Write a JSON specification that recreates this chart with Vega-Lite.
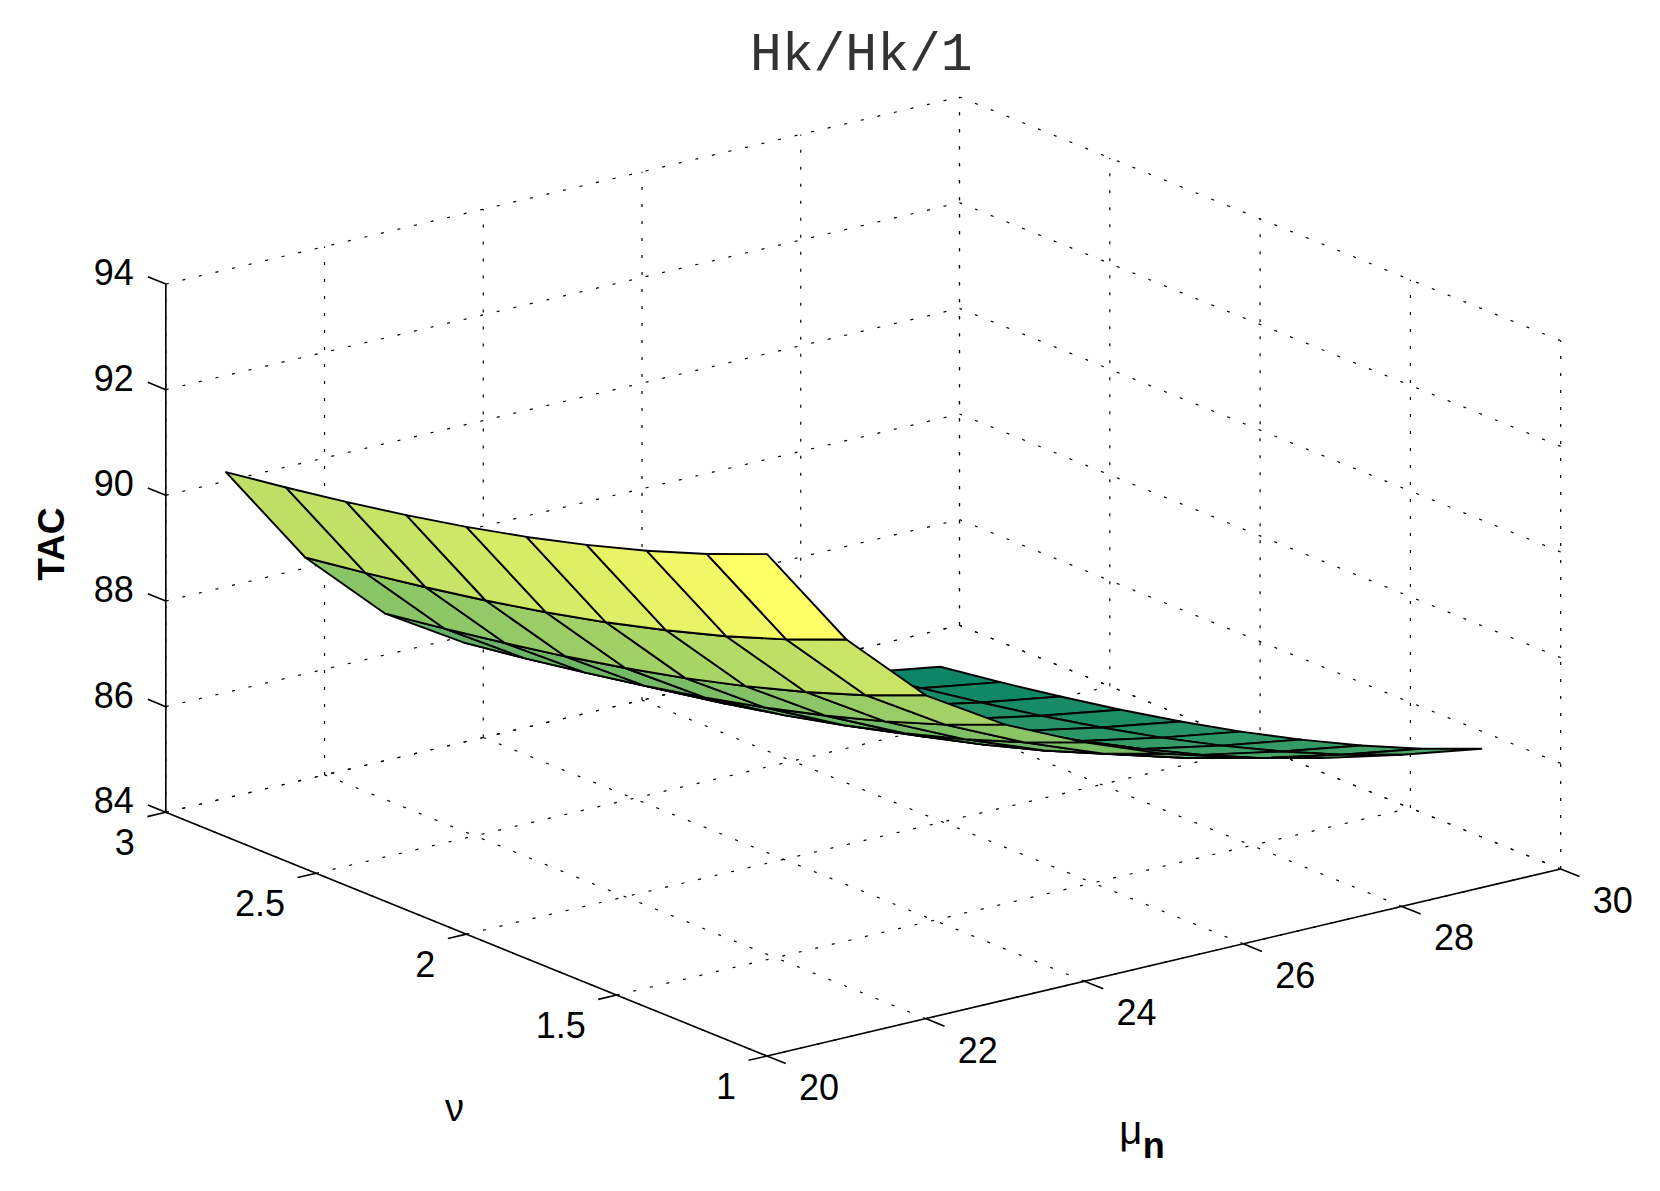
{
  "$schema": "https://vega.github.io/schema/vega-lite/v6.json",
  "width": 1660,
  "height": 1191,
  "autosize": {"type": "none"},
  "padding": 0,
  "background": "white",
  "config": {"view": {"stroke": null}},
  "datasets": {
    "surface": [
      {"mu": 29, "nu": 2.8, "TAC": 84.03}, {"mu": 28, "nu": 2.8, "TAC": 84.27}, {"mu": 27, "nu": 2.8, "TAC": 84.56}, {"mu": 26, "nu": 2.8, "TAC": 84.92}, {"mu": 25, "nu": 2.8, "TAC": 85.35}, {"mu": 24, "nu": 2.8, "TAC": 85.92}, {"mu": 23, "nu": 2.8, "TAC": 86.61}, {"mu": 22, "nu": 2.8, "TAC": 87.52}, {"mu": 21, "nu": 2.8, "TAC": 88.93}, {"mu": 20, "nu": 2.8, "TAC": 90.90},
      {"mu": 29, "nu": 2.6, "TAC": 84.20}, {"mu": 28, "nu": 2.6, "TAC": 84.44}, {"mu": 27, "nu": 2.6, "TAC": 84.73}, {"mu": 26, "nu": 2.6, "TAC": 85.09}, {"mu": 25, "nu": 2.6, "TAC": 85.52}, {"mu": 24, "nu": 2.6, "TAC": 86.09}, {"mu": 23, "nu": 2.6, "TAC": 86.78}, {"mu": 22, "nu": 2.6, "TAC": 87.69}, {"mu": 21, "nu": 2.6, "TAC": 89.10}, {"mu": 20, "nu": 2.6, "TAC": 91.07},
      {"mu": 29, "nu": 2.4, "TAC": 84.39}, {"mu": 28, "nu": 2.4, "TAC": 84.63}, {"mu": 27, "nu": 2.4, "TAC": 84.92}, {"mu": 26, "nu": 2.4, "TAC": 85.28}, {"mu": 25, "nu": 2.4, "TAC": 85.71}, {"mu": 24, "nu": 2.4, "TAC": 86.28}, {"mu": 23, "nu": 2.4, "TAC": 86.97}, {"mu": 22, "nu": 2.4, "TAC": 87.88}, {"mu": 21, "nu": 2.4, "TAC": 89.29}, {"mu": 20, "nu": 2.4, "TAC": 91.26},
      {"mu": 29, "nu": 2.2, "TAC": 84.60}, {"mu": 28, "nu": 2.2, "TAC": 84.84}, {"mu": 27, "nu": 2.2, "TAC": 85.13}, {"mu": 26, "nu": 2.2, "TAC": 85.49}, {"mu": 25, "nu": 2.2, "TAC": 85.92}, {"mu": 24, "nu": 2.2, "TAC": 86.49}, {"mu": 23, "nu": 2.2, "TAC": 87.18}, {"mu": 22, "nu": 2.2, "TAC": 88.09}, {"mu": 21, "nu": 2.2, "TAC": 89.50}, {"mu": 20, "nu": 2.2, "TAC": 91.47},
      {"mu": 29, "nu": 2.0, "TAC": 84.84}, {"mu": 28, "nu": 2.0, "TAC": 85.08}, {"mu": 27, "nu": 2.0, "TAC": 85.37}, {"mu": 26, "nu": 2.0, "TAC": 85.73}, {"mu": 25, "nu": 2.0, "TAC": 86.16}, {"mu": 24, "nu": 2.0, "TAC": 86.73}, {"mu": 23, "nu": 2.0, "TAC": 87.42}, {"mu": 22, "nu": 2.0, "TAC": 88.33}, {"mu": 21, "nu": 2.0, "TAC": 89.74}, {"mu": 20, "nu": 2.0, "TAC": 91.71},
      {"mu": 29, "nu": 1.8, "TAC": 85.11}, {"mu": 28, "nu": 1.8, "TAC": 85.35}, {"mu": 27, "nu": 1.8, "TAC": 85.64}, {"mu": 26, "nu": 1.8, "TAC": 86.00}, {"mu": 25, "nu": 1.8, "TAC": 86.43}, {"mu": 24, "nu": 1.8, "TAC": 87.00}, {"mu": 23, "nu": 1.8, "TAC": 87.69}, {"mu": 22, "nu": 1.8, "TAC": 88.60}, {"mu": 21, "nu": 1.8, "TAC": 90.01}, {"mu": 20, "nu": 1.8, "TAC": 91.98},
      {"mu": 29, "nu": 1.6, "TAC": 85.42}, {"mu": 28, "nu": 1.6, "TAC": 85.66}, {"mu": 27, "nu": 1.6, "TAC": 85.95}, {"mu": 26, "nu": 1.6, "TAC": 86.31}, {"mu": 25, "nu": 1.6, "TAC": 86.74}, {"mu": 24, "nu": 1.6, "TAC": 87.31}, {"mu": 23, "nu": 1.6, "TAC": 88.00}, {"mu": 22, "nu": 1.6, "TAC": 88.91}, {"mu": 21, "nu": 1.6, "TAC": 90.32}, {"mu": 20, "nu": 1.6, "TAC": 92.29},
      {"mu": 29, "nu": 1.4, "TAC": 85.77}, {"mu": 28, "nu": 1.4, "TAC": 86.01}, {"mu": 27, "nu": 1.4, "TAC": 86.30}, {"mu": 26, "nu": 1.4, "TAC": 86.66}, {"mu": 25, "nu": 1.4, "TAC": 87.09}, {"mu": 24, "nu": 1.4, "TAC": 87.66}, {"mu": 23, "nu": 1.4, "TAC": 88.35}, {"mu": 22, "nu": 1.4, "TAC": 89.26}, {"mu": 21, "nu": 1.4, "TAC": 90.67}, {"mu": 20, "nu": 1.4, "TAC": 92.64},
      {"mu": 29, "nu": 1.2, "TAC": 86.17}, {"mu": 28, "nu": 1.2, "TAC": 86.41}, {"mu": 27, "nu": 1.2, "TAC": 86.70}, {"mu": 26, "nu": 1.2, "TAC": 87.06}, {"mu": 25, "nu": 1.2, "TAC": 87.49}, {"mu": 24, "nu": 1.2, "TAC": 88.06}, {"mu": 23, "nu": 1.2, "TAC": 88.75}, {"mu": 22, "nu": 1.2, "TAC": 89.66}, {"mu": 21, "nu": 1.2, "TAC": 91.07}, {"mu": 20, "nu": 1.2, "TAC": 93.04},
      {"mu": 29, "nu": 1.0, "TAC": 86.63}, {"mu": 28, "nu": 1.0, "TAC": 86.87}, {"mu": 27, "nu": 1.0, "TAC": 87.16}, {"mu": 26, "nu": 1.0, "TAC": 87.52}, {"mu": 25, "nu": 1.0, "TAC": 87.95}, {"mu": 24, "nu": 1.0, "TAC": 88.52}, {"mu": 23, "nu": 1.0, "TAC": 89.21}, {"mu": 22, "nu": 1.0, "TAC": 90.12}, {"mu": 21, "nu": 1.0, "TAC": 91.53}, {"mu": 20, "nu": 1.0, "TAC": 93.50}
    ],
    "mut": [{"v": 20}, {"v": 22}, {"v": 24}, {"v": 26}, {"v": 28}, {"v": 30}],
    "nut": [{"v": 1}, {"v": 1.5}, {"v": 2}, {"v": 2.5}, {"v": 3}],
    "zt": [{"v": 84}, {"v": 86}, {"v": 88}, {"v": 90}, {"v": 92}, {"v": 94}]
  },
  "encoding": {
    "x": {"field": "x1", "type": "quantitative", "scale": {"domain": [0, 1660], "nice": false, "zero": false}, "axis": null},
    "y": {"field": "y1", "type": "quantitative", "scale": {"domain": [0, 1191], "nice": false, "zero": false, "reverse": true}, "axis": null}
  },
  "layer": [
    {
      "data": {"name": "mut"},
      "transform": [
        {"calculate": "767+79.37*(datum.v-20)", "as": "x1"},
        {"calculate": "1056-18.7*(datum.v-20)", "as": "y1"},
        {"calculate": "datum.x1-601.2", "as": "x2"},
        {"calculate": "datum.y1-243.7", "as": "y2"}
      ],
      "mark": {"type": "rule", "strokeDash": [3, 14], "strokeWidth": 1.2, "color": "black"},
      "encoding": {"x2": {"field": "x2"}, "y2": {"field": "y2"}}
    },
    {
      "data": {"name": "mut"},
      "transform": [
        {"calculate": "767+79.37*(datum.v-20)-601.2", "as": "x1"},
        {"calculate": "1056-18.7*(datum.v-20)-243.7", "as": "y1"},
        {"calculate": "datum.x1", "as": "x2"},
        {"calculate": "datum.y1-528.3", "as": "y2"}
      ],
      "mark": {"type": "rule", "strokeDash": [3, 14], "strokeWidth": 1.2, "color": "black"},
      "encoding": {"x2": {"field": "x2"}, "y2": {"field": "y2"}}
    },
    {
      "data": {"name": "nut"},
      "transform": [
        {"calculate": "767-300.6*(datum.v-1)", "as": "x1"},
        {"calculate": "1056-121.85*(datum.v-1)", "as": "y1"},
        {"calculate": "datum.x1+793.7", "as": "x2"},
        {"calculate": "datum.y1-187", "as": "y2"}
      ],
      "mark": {"type": "rule", "strokeDash": [3, 14], "strokeWidth": 1.2, "color": "black"},
      "encoding": {"x2": {"field": "x2"}, "y2": {"field": "y2"}}
    },
    {
      "data": {"name": "nut"},
      "transform": [
        {"calculate": "767+793.7-300.6*(datum.v-1)", "as": "x1"},
        {"calculate": "1056-187-121.85*(datum.v-1)", "as": "y1"},
        {"calculate": "datum.x1", "as": "x2"},
        {"calculate": "datum.y1-528.3", "as": "y2"}
      ],
      "mark": {"type": "rule", "strokeDash": [3, 14], "strokeWidth": 1.2, "color": "black"},
      "encoding": {"x2": {"field": "x2"}, "y2": {"field": "y2"}}
    },
    {
      "data": {"name": "zt"},
      "transform": [
        {"calculate": "767-601.2", "as": "x1"},
        {"calculate": "1056-243.7-52.83*(datum.v-84)", "as": "y1"},
        {"calculate": "datum.x1+793.7", "as": "x2"},
        {"calculate": "datum.y1-187", "as": "y2"}
      ],
      "mark": {"type": "rule", "strokeDash": [3, 14], "strokeWidth": 1.2, "color": "black"},
      "encoding": {"x2": {"field": "x2"}, "y2": {"field": "y2"}}
    },
    {
      "data": {"name": "zt"},
      "transform": [
        {"calculate": "767+793.7", "as": "x1"},
        {"calculate": "1056-187-52.83*(datum.v-84)", "as": "y1"},
        {"calculate": "datum.x1-601.2", "as": "x2"},
        {"calculate": "datum.y1-243.7", "as": "y2"}
      ],
      "mark": {"type": "rule", "strokeDash": [3, 14], "strokeWidth": 1.2, "color": "black"},
      "encoding": {"x2": {"field": "x2"}, "y2": {"field": "y2"}}
    },
    {
      "data": {"name": "zt"},
      "transform": [
        {"aggregate": [{"op": "min", "field": "v", "as": "lo"}, {"op": "max", "field": "v", "as": "hi"}]},
        {"calculate": "767-601.2", "as": "x1"},
        {"calculate": "1056-243.7-52.83*(datum.lo-84)", "as": "y1"},
        {"calculate": "datum.x1", "as": "x2"},
        {"calculate": "1056-243.7-52.83*(datum.hi-84)", "as": "y2"}
      ],
      "mark": {"type": "rule", "strokeWidth": 1.6, "color": "black"},
      "encoding": {"x2": {"field": "x2"}, "y2": {"field": "y2"}}
    },
    {
      "data": {"name": "nut"},
      "transform": [
        {"aggregate": [{"op": "min", "field": "v", "as": "lo"}, {"op": "max", "field": "v", "as": "hi"}]},
        {"calculate": "767-300.6*(datum.lo-1)", "as": "x1"},
        {"calculate": "1056-121.85*(datum.lo-1)", "as": "y1"},
        {"calculate": "767-300.6*(datum.hi-1)", "as": "x2"},
        {"calculate": "1056-121.85*(datum.hi-1)", "as": "y2"}
      ],
      "mark": {"type": "rule", "strokeWidth": 1.6, "color": "black"},
      "encoding": {"x2": {"field": "x2"}, "y2": {"field": "y2"}}
    },
    {
      "data": {"name": "mut"},
      "transform": [
        {"aggregate": [{"op": "min", "field": "v", "as": "lo"}, {"op": "max", "field": "v", "as": "hi"}]},
        {"calculate": "767+79.37*(datum.lo-20)", "as": "x1"},
        {"calculate": "1056-18.7*(datum.lo-20)", "as": "y1"},
        {"calculate": "767+79.37*(datum.hi-20)", "as": "x2"},
        {"calculate": "1056-18.7*(datum.hi-20)", "as": "y2"}
      ],
      "mark": {"type": "rule", "strokeWidth": 1.6, "color": "black"},
      "encoding": {"x2": {"field": "x2"}, "y2": {"field": "y2"}}
    },
    {
      "data": {"name": "mut"},
      "transform": [
        {"calculate": "767+79.37*(datum.v-20)", "as": "x1"},
        {"calculate": "1056-18.7*(datum.v-20)", "as": "y1"},
        {"calculate": "datum.x1+18.8", "as": "x2"},
        {"calculate": "datum.y1+7.6", "as": "y2"}
      ],
      "mark": {"type": "rule", "strokeWidth": 1.6, "color": "black"},
      "encoding": {"x2": {"field": "x2"}, "y2": {"field": "y2"}}
    },
    {
      "data": {"name": "nut"},
      "transform": [
        {"calculate": "767-300.6*(datum.v-1)", "as": "x1"},
        {"calculate": "1056-121.85*(datum.v-1)", "as": "y1"},
        {"calculate": "datum.x1-18.5", "as": "x2"},
        {"calculate": "datum.y1+4.3", "as": "y2"}
      ],
      "mark": {"type": "rule", "strokeWidth": 1.6, "color": "black"},
      "encoding": {"x2": {"field": "x2"}, "y2": {"field": "y2"}}
    },
    {
      "data": {"name": "zt"},
      "transform": [
        {"calculate": "767-601.2", "as": "x1"},
        {"calculate": "1056-243.7-52.83*(datum.v-84)", "as": "y1"},
        {"calculate": "datum.x1-18", "as": "x2"},
        {"calculate": "datum.y1-7.3", "as": "y2"}
      ],
      "mark": {"type": "rule", "strokeWidth": 1.6, "color": "black"},
      "encoding": {"x2": {"field": "x2"}, "y2": {"field": "y2"}}
    },
    {
      "data": {"name": "mut"},
      "transform": [
        {"calculate": "767+79.37*(datum.v-20)", "as": "x1"},
        {"calculate": "1056-18.7*(datum.v-20)", "as": "y1"}
      ],
      "mark": {"type": "text", "font": "Liberation Sans", "fontSize": 36, "align": "center", "baseline": "middle", "dx": 52, "dy": 33, "color": "black"},
      "encoding": {"text": {"field": "v", "type": "nominal"}}
    },
    {
      "data": {"name": "nut"},
      "transform": [
        {"calculate": "767-300.6*(datum.v-1)", "as": "x1"},
        {"calculate": "1056-121.85*(datum.v-1)", "as": "y1"}
      ],
      "mark": {"type": "text", "font": "Liberation Sans", "fontSize": 36, "align": "right", "baseline": "middle", "dx": -31, "dy": 32, "color": "black"},
      "encoding": {"text": {"field": "v", "type": "nominal"}}
    },
    {
      "data": {"name": "zt"},
      "transform": [
        {"calculate": "767-601.2", "as": "x1"},
        {"calculate": "1056-243.7-52.83*(datum.v-84)", "as": "y1"}
      ],
      "mark": {"type": "text", "font": "Liberation Sans", "fontSize": 36, "align": "right", "baseline": "middle", "dx": -32, "dy": -10, "color": "black"},
      "encoding": {"text": {"field": "v", "type": "nominal"}}
    },
    {
      "data": {"values": [{"t": "Hk/Hk/1", "mu": 25, "nu": 2, "z": 94}]},
      "transform": [
        {"calculate": "767+79.37*(datum.mu-20)-300.6*(datum.nu-1)", "as": "x1"},
        {"calculate": "1056-18.7*(datum.mu-20)-121.85*(datum.nu-1)-52.83*(datum.z-84)", "as": "y1"}
      ],
      "mark": {"type": "text", "font": "Liberation Mono", "fontSize": 53, "align": "center", "baseline": "alphabetic", "dx": -2, "dy": -242, "color": "#333333"},
      "encoding": {"text": {"field": "t", "type": "nominal"}}
    },
    {
      "data": {"values": [{"t": "TAC", "mu": 20, "nu": 3, "z": 89}]},
      "transform": [
        {"calculate": "767+79.37*(datum.mu-20)-300.6*(datum.nu-1)", "as": "x1"},
        {"calculate": "1056-18.7*(datum.mu-20)-121.85*(datum.nu-1)-52.83*(datum.z-84)", "as": "y1"}
      ],
      "mark": {"type": "text", "font": "Liberation Sans", "fontSize": 37, "fontWeight": "bold", "angle": 270, "align": "center", "baseline": "middle", "dx": 4, "dy": -113, "color": "black"},
      "encoding": {"text": {"field": "t", "type": "nominal"}}
    },
    {
      "data": {"values": [{"t": "ν", "mu": 20, "nu": 2, "z": 84}]},
      "transform": [
        {"calculate": "767+79.37*(datum.mu-20)-300.6*(datum.nu-1)", "as": "x1"},
        {"calculate": "1056-18.7*(datum.mu-20)-121.85*(datum.nu-1)-52.83*(datum.z-84)", "as": "y1"}
      ],
      "mark": {"type": "text", "font": "Liberation Sans", "fontSize": 38, "align": "center", "baseline": "alphabetic", "dx": -12, "dy": 187, "color": "black"},
      "encoding": {"text": {"field": "t", "type": "nominal"}}
    },
    {
      "data": {"values": [{"t": "μ", "mu": 25, "nu": 1, "z": 84}]},
      "transform": [
        {"calculate": "767+79.37*(datum.mu-20)-300.6*(datum.nu-1)", "as": "x1"},
        {"calculate": "1056-18.7*(datum.mu-20)-121.85*(datum.nu-1)-52.83*(datum.z-84)", "as": "y1"}
      ],
      "mark": {"type": "text", "font": "Liberation Sans", "fontSize": 40, "align": "center", "baseline": "alphabetic", "dx": -33, "dy": 181, "color": "black"},
      "encoding": {"text": {"field": "t", "type": "nominal"}}
    },
    {
      "data": {"values": [{"t": "n", "mu": 25, "nu": 1, "z": 84}]},
      "transform": [
        {"calculate": "767+79.37*(datum.mu-20)-300.6*(datum.nu-1)", "as": "x1"},
        {"calculate": "1056-18.7*(datum.mu-20)-121.85*(datum.nu-1)-52.83*(datum.z-84)", "as": "y1"}
      ],
      "mark": {"type": "text", "font": "Liberation Sans", "fontSize": 36, "fontWeight": "bold", "align": "center", "baseline": "alphabetic", "dx": -10, "dy": 195, "color": "black"},
      "encoding": {"text": {"field": "t", "type": "nominal"}}
    },
    {
      "data": {"name": "surface"},
      "transform": [
        {"calculate": "round(datum.mu-20)", "as": "i"},
        {"calculate": "round((datum.nu-1)*5)", "as": "j"},
        {"calculate": "[0,1,2,3]", "as": "o"},
        {"flatten": ["o"]},
        {"calculate": "datum.i-((datum.o==1||datum.o==2)?1:0)", "as": "ci"},
        {"calculate": "datum.j-(datum.o>=2?1:0)", "as": "cj"},
        {"filter": "datum.ci>=0 && datum.ci<=8 && datum.cj>=0 && datum.cj<=8"},
        {"calculate": "datum.ci*10+datum.cj", "as": "cell"},
        {"calculate": "datum.o==0 ? datum.TAC : null", "as": "c0"},
        {"joinaggregate": [{"op": "max", "field": "c0", "as": "cc"}], "groupby": ["cell"]},
        {"calculate": "767+79.37*(datum.mu-20)-300.6*(datum.nu-1)", "as": "x1"},
        {"calculate": "1056-18.7*(datum.mu-20)-121.85*(datum.nu-1)-52.83*(datum.TAC-84)", "as": "y1"}
      ],
      "mark": {"type": "line", "interpolate": "linear-closed", "stroke": "black", "strokeWidth": 1.9, "strokeJoin": "round"},
      "encoding": {
        "detail": {"field": "cell", "type": "nominal"},
        "order": {"field": "o", "type": "quantitative"},
        "fill": {"field": "cc", "type": "quantitative", "scale": {"domain": [84.03, 93.5], "range": ["#008066", "#ffff66"], "interpolate": "rgb"}, "legend": null}
      }
    }
  ]
}
